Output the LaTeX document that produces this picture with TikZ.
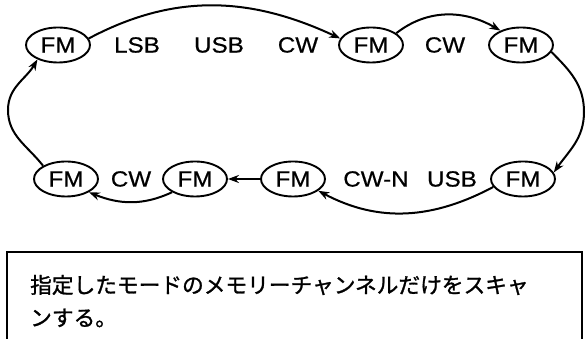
\documentclass[tikz,border=0pt]{standalone}
\usepackage{fontspec}
\newfontfamily\lab[FakeStretch=1.1,FakeBold=0.6]{Liberation Sans}
\newfontfamily\cjk[FakeBold=1.2]{Noto Sans CJK JP}
\usetikzlibrary{arrows.meta,shapes.geometric}
\begin{document}
\begin{tikzpicture}[x=1pt,y=1pt,
  fm/.style={draw,line width=1.9pt,ellipse,minimum width=64pt,minimum height=35pt,inner sep=0pt,font=\lab\fontsize{22}{26}\selectfont},
  lbl/.style={inner sep=0pt,font=\lab\fontsize{22}{26}\selectfont},
  conn/.style={line width=2pt,-{Stealth[length=11pt,width=8pt]}},
  jp/.style={inner sep=0pt,anchor=west,font=\cjk\fontsize{21.7}{26}\selectfont}]
\useasboundingbox (0,0) rectangle (587,339);
% top row
\node[fm] (fm1) at (58,294) {FM};
\node[lbl] (l1) at (137,294) {LSB};
\node[lbl] (l2) at (219,294) {USB};
\node[lbl] (l3) at (298,294) {CW};
\node[fm] (fm2) at (371,294) {FM};
\node[lbl] (l4) at (445,294) {CW};
\node[fm] (fm3) at (521,294) {FM};
% bottom row
\node[fm] (fm4) at (66,160) {FM};
\node[lbl] (l5) at (131,160) {CW};
\node[fm] (fm5) at (195,160) {FM};
\node[fm] (fm6) at (293,160) {FM};
\node[lbl] (l6) at (376,160) {CW-N};
\node[lbl] (l7) at (452,160) {USB};
\node[fm] (fm7) at (523,160) {FM};
% turning points of the side arcs
\coordinate (lm) at (8,229);
\coordinate (rm) at (584,227);
% connectors
\draw[conn] (fm1.12) to[out=28,in=155] (fm2.168);
\draw[conn] (fm2.25) to[out=38,in=150] (fm3.145);
\draw[conn] (fm3.-13) to[out=-45,in=90] (rm) to[out=-90,in=55] (fm7.12);
\draw[conn] (fm7.195) to[out=208,in=-28] (fm6.-25);
\draw[conn] (fm6.west) -- (fm5.east);
\draw[conn] (fm5.-150) to[out=205,in=-22] (fm4.-30);
\draw[conn] (fm4.150) to[out=128,in=-90] (lm) to[out=90,in=-120] (fm1.-145);
% text box
\coordinate (b1) at (7,0);
\coordinate (b2) at (7,87);
\coordinate (b3) at (582,87);
\coordinate (b4) at (582,0);
\draw[line width=1.3pt] (b1) -- (b2) -- (b3) -- (b4);
\node[jp] (t1) at (30,54) {指定したモードのメモリーチャンネルだけをスキャ};
\node[jp] (t2) at (30,21) {ンする。};
\end{tikzpicture}
\end{document}
